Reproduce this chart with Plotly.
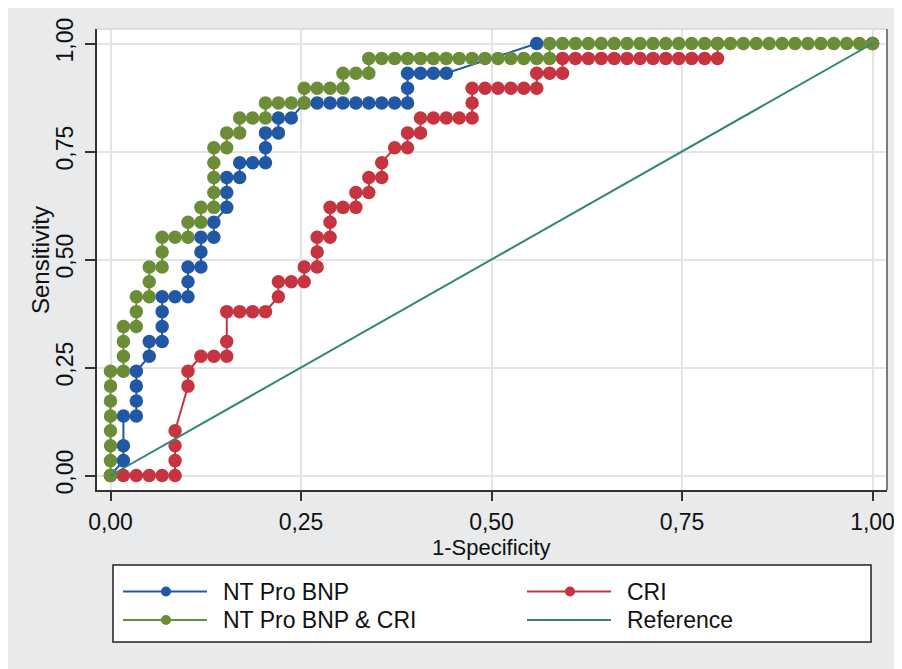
import plotly.graph_objects as go

# ---------------- data ----------------
# ROC points expressed as counts: false positives out of N_NEG, true positives out of N_POS
N_NEG = 59
N_POS = 29

bnp_fp = [0, 1, 1, 1, 2, 2, 2, 2, 3, 3, 4, 4, 4, 4, 5, 6, 6, 6, 7, 7, 7, 8, 8, 9, 9, 9,
          10, 10, 11, 12, 12, 12, 13, 13, 14, 15, 16, 17, 18, 19, 20, 21, 22, 23, 23, 23,
          24, 25, 26, 33, 59]
bnp_tp = [0, 1, 2, 4, 4, 5, 6, 7, 8, 9, 9, 10, 11, 12, 12, 12, 13, 14, 14, 15, 16, 16, 17, 18, 19, 20,
          20, 21, 21, 21, 22, 23, 23, 24, 24, 25, 25, 25, 25, 25, 25, 25, 25, 25, 26, 27,
          27, 27, 27, 29, 29]

cri_fp = [0, 1, 2, 3, 4, 5, 5, 5, 5, 6, 6, 7, 8, 9, 9, 9, 10, 11, 12, 13, 13, 14, 15, 15,
          16, 16, 16, 17, 17, 17, 18, 19, 19, 20, 20, 21, 21, 22, 23, 23, 24, 24, 25, 26,
          27, 28, 28, 28, 29, 30, 31, 32, 33, 33, 34, 35, 35, 36, 37, 38, 39, 40, 41, 42,
          43, 44, 45, 46, 47, 47, 59]
cri_tp = [0, 0, 0, 0, 0, 0, 1, 2, 3, 6, 7, 8, 8, 8, 9, 11, 11, 11, 11, 12, 13, 13, 13, 14,
          14, 15, 16, 16, 17, 18, 18, 18, 19, 19, 20, 20, 21, 22, 22, 23, 23, 24, 24, 24,
          24, 24, 25, 26, 26, 26, 26, 26, 26, 27, 27, 27, 28, 28, 28, 28, 28, 28, 28, 28,
          28, 28, 28, 28, 28, 29, 29]

comb_fp = [0, 0, 0, 0, 0, 0, 0, 0, 1, 1, 1, 1, 2, 2, 2, 3, 3, 3, 4, 4, 4, 5, 6, 6, 7, 7,
           8, 8, 8, 8, 8, 9, 9, 10, 10, 11, 12, 12, 13, 14, 15, 15, 16, 17, 18, 18, 19,
           20, 20, 21, 22, 23, 24, 25, 26, 27, 28, 29, 30, 31, 32, 33, 34, 34, 35, 36, 37,
           38, 39, 40, 41, 42, 43, 44, 45, 46, 47, 48, 49, 50, 51, 52, 53, 54, 55, 56, 57,
           58, 59]
comb_tp = [0, 1, 2, 3, 4, 5, 6, 7, 7, 8, 9, 10, 10, 11, 12, 12, 13, 14, 14, 15, 16, 16, 16, 17, 17, 18,
           18, 19, 20, 21, 22, 22, 23, 23, 24, 24, 24, 25, 25, 25, 25, 26, 26, 26, 26, 27, 27,
           27, 28, 28, 28, 28, 28, 28, 28, 28, 28, 28, 28, 28, 28, 28, 28, 29, 29, 29, 29,
           29, 29, 29, 29, 29, 29, 29, 29, 29, 29, 29, 29, 29, 29, 29, 29, 29, 29, 29, 29,
           29, 29]

ref_x = [0.0, 1.0]
ref_y = [0.0, 1.0]

tick_vals = [0.0, 0.25, 0.5, 0.75, 1.0]
tick_text = ["0,00", "0,25", "0,50", "0,75", "1,00"]

series_names = ["NT Pro BNP", "CRI", "NT Pro BNP & CRI", "Reference"]
series_colors = ["#2157A3", "#C5343F", "#6C8D37", "#2F8677"]

x_title = "1-Specificity"
y_title = "Sensitivity"

# ---------------- figure ----------------
FONT = "Liberation Sans, Arial, sans-serif"
FS = 23
OFF = 8                      # page (body) margin of the html page
W_FIG, H_FIG = 894, 661
L, R, T, B = 89, 15, 21, 179
PW = W_FIG - L - R
PH = H_FIG - T - B


def px_x(px):
    """screen pixel x -> paper fraction"""
    return (px - OFF - L) / PW


def px_y(py):
    """screen pixel y -> paper fraction"""
    return (H_FIG - B - (py - OFF)) / PH


fig = go.Figure()

curves = [(bnp_fp, bnp_tp), (cri_fp, cri_tp), (comb_fp, comb_tp)]
for (fp, tp), name, col in zip(curves, series_names[:3], series_colors[:3]):
    fig.add_trace(go.Scatter(
        x=[v / N_NEG for v in fp], y=[v / N_POS for v in tp],
        mode="lines+markers", name=name,
        line=dict(color=col, width=2),
        marker=dict(color=col, size=13.5, line=dict(width=0)),
        showlegend=False, cliponaxis=False,
    ))

fig.add_trace(go.Scatter(
    x=ref_x, y=ref_y, mode="lines", name=series_names[3],
    line=dict(color=series_colors[3], width=2), showlegend=False,
))

shapes = []
# top (faint) and right frame lines
shapes.append(dict(type="line", xref="paper", yref="paper", layer="above",
                   x0=0, x1=1, y0=1, y1=1, line=dict(color="#D5D7D9", width=1.5)))
shapes.append(dict(type="line", xref="paper", yref="paper", layer="above",
                   x0=1, x1=1, y0=0, y1=1, line=dict(color="#555555", width=1.5)))

# legend box
shapes.append(dict(type="rect", xref="paper", yref="paper", layer="below",
                   x0=px_x(113), x1=px_x(871), y0=px_y(642), y1=px_y(565),
                   fillcolor="white", line=dict(color="#222222", width=1.5)))

annotations = []
col_x = [123, 527]
row_y = [591.5, 620]
positions = [(0, 0), (1, 0), (0, 1), (1, 1)]
has_marker = [True, True, True, False]
for name, col, (c, r), mk in zip(series_names, series_colors, positions, has_marker):
    x0 = col_x[c]
    y0 = row_y[r]
    shapes.append(dict(type="line", xref="paper", yref="paper", layer="below",
                       x0=px_x(x0), x1=px_x(x0 + 84), y0=px_y(y0), y1=px_y(y0),
                       line=dict(color=col, width=2)))
    if mk:
        cx = x0 + 43
        shapes.append(dict(type="circle", xref="paper", yref="paper", layer="below",
                           x0=px_x(cx - 5), x1=px_x(cx + 5), y0=px_y(y0 + 5), y1=px_y(y0 - 5),
                           fillcolor=col, line=dict(width=0)))
    annotations.append(dict(xref="paper", yref="paper", x=px_x(x0 + 98), y=px_y(y0),
                            xanchor="left", yanchor="middle", showarrow=False, text=name,
                            font=dict(family=FONT, size=FS, color="#111111")))

# axis titles
annotations.append(dict(xref="paper", yref="paper", x=px_x(491), y=px_y(547),
                        xanchor="center", yanchor="middle", showarrow=False, text=x_title,
                        font=dict(family=FONT, size=22, color="#111111")))
annotations.append(dict(xref="paper", yref="paper", x=px_x(40), y=px_y(260),
                        xanchor="center", yanchor="middle", showarrow=False, text=y_title,
                        textangle=-90,
                        font=dict(family=FONT, size=24, color="#111111")))

fig.update_layout(
    template="none",
    width=W_FIG, height=H_FIG,
    margin=dict(l=L, r=R, t=T, b=B, pad=0, autoexpand=False),
    paper_bgcolor="#E8EAEC", plot_bgcolor="white",
    font=dict(family=FONT, size=FS, color="#111111"),
    showlegend=False,
    shapes=shapes, annotations=annotations,
)

fig.update_xaxes(
    automargin=False,
    range=[-0.01772, 1.01902], tickmode="array", tickvals=tick_vals, ticktext=tick_text,
    showgrid=True, gridcolor="#E4E4E4", gridwidth=1.5, zeroline=False,
    showline=True, linecolor="#333333", linewidth=2,
    ticks="outside", ticklen=9, tickwidth=1.5, tickcolor="#333333",
    ticklabelstandoff=1,
    tickfont=dict(size=FS),
)
fig.update_yaxes(
    automargin=False,
    range=[-0.03356, 1.03356], tickmode="array", tickvals=tick_vals, ticktext=tick_text,
    showgrid=True, gridcolor="#E4E4E4", gridwidth=1.5, zeroline=False,
    showline=True, linecolor="#333333", linewidth=2,
    ticks="outside", ticklen=10, tickwidth=1.5, tickcolor="#333333",
    tickangle=-90, ticklabelstandoff=3,
    tickfont=dict(size=FS),
)

fig.write_html("out.html")
